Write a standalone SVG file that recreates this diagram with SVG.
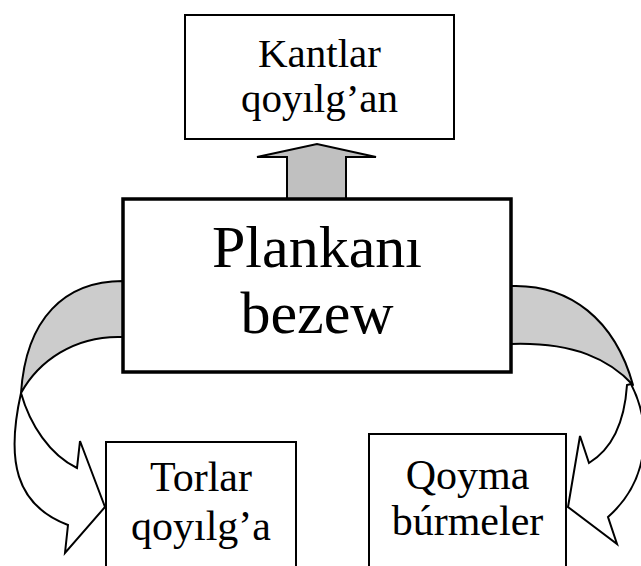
<svg xmlns="http://www.w3.org/2000/svg" width="641" height="566" viewBox="0 0 641 566">
<style>
.box{fill:#fff;stroke:#000;stroke-width:2}
.main{fill:#fff;stroke:#000;stroke-width:3.5}
.t{font-family:"Liberation Serif","Times New Roman",serif;fill:#000;text-anchor:middle}
.band{fill:#cccccc;stroke:#000;stroke-width:2;stroke-linejoin:round}
.front{fill:#fff;stroke:#000;stroke-width:2;stroke-linejoin:miter}
.up{fill:#c0c0c0;stroke:#000;stroke-width:2}
</style>
<rect width="641" height="566" fill="#fff"/>
<g id="connectors">
<path class="up" d="M287,199 L287,157 L257,157 L317,144 L376,157 L346,157 L346,199 Z"/>
<path class="band" d="M123,281 C65,281 26,318 21,393 C38,362 74,335 123,337 Z"/>
<path class="front" d="M21,393 C6,460 15,505 68,525 L65,553 L105,507 L80,441 L77,468 C50,455 30,425 21,393 Z"/>
<path class="band" d="M511,286 C570,284 615,320 633,385 C610,360 575,342 511,344 Z"/>
<path class="front" d="M631,384 C652,425 650,480 608,517 L617,544 L568,507 L580,436 L589,463 C607,452 624,430 627,385 Z"/>
</g>
<g id="top">
<rect class="box" x="185" y="15" width="269" height="124"/>
<text class="t" x="319.5" y="67" font-size="41">Kantlar</text>
<text class="t" x="319.5" y="112" font-size="41">qoyılg’an</text>
</g>
<g id="main">
<rect class="main" x="123" y="199" width="388" height="173"/>
<text class="t" x="317" y="267" font-size="60">Plankanı</text>
<text class="t" x="317" y="333" font-size="60">bezew</text>
</g>
<g id="left">
<rect class="box" x="106" y="442" width="190" height="130"/>
<text class="t" x="201" y="491" font-size="42">Torlar</text>
<text class="t" x="201" y="540" font-size="42">qoyılg’a</text>
</g>
<g id="right">
<rect class="box" x="369" y="434" width="197" height="140"/>
<text class="t" x="467.5" y="489" font-size="42">Qoyma</text>
<text class="t" x="467.5" y="535" font-size="42">búrmeler</text>
</g>
</svg>
